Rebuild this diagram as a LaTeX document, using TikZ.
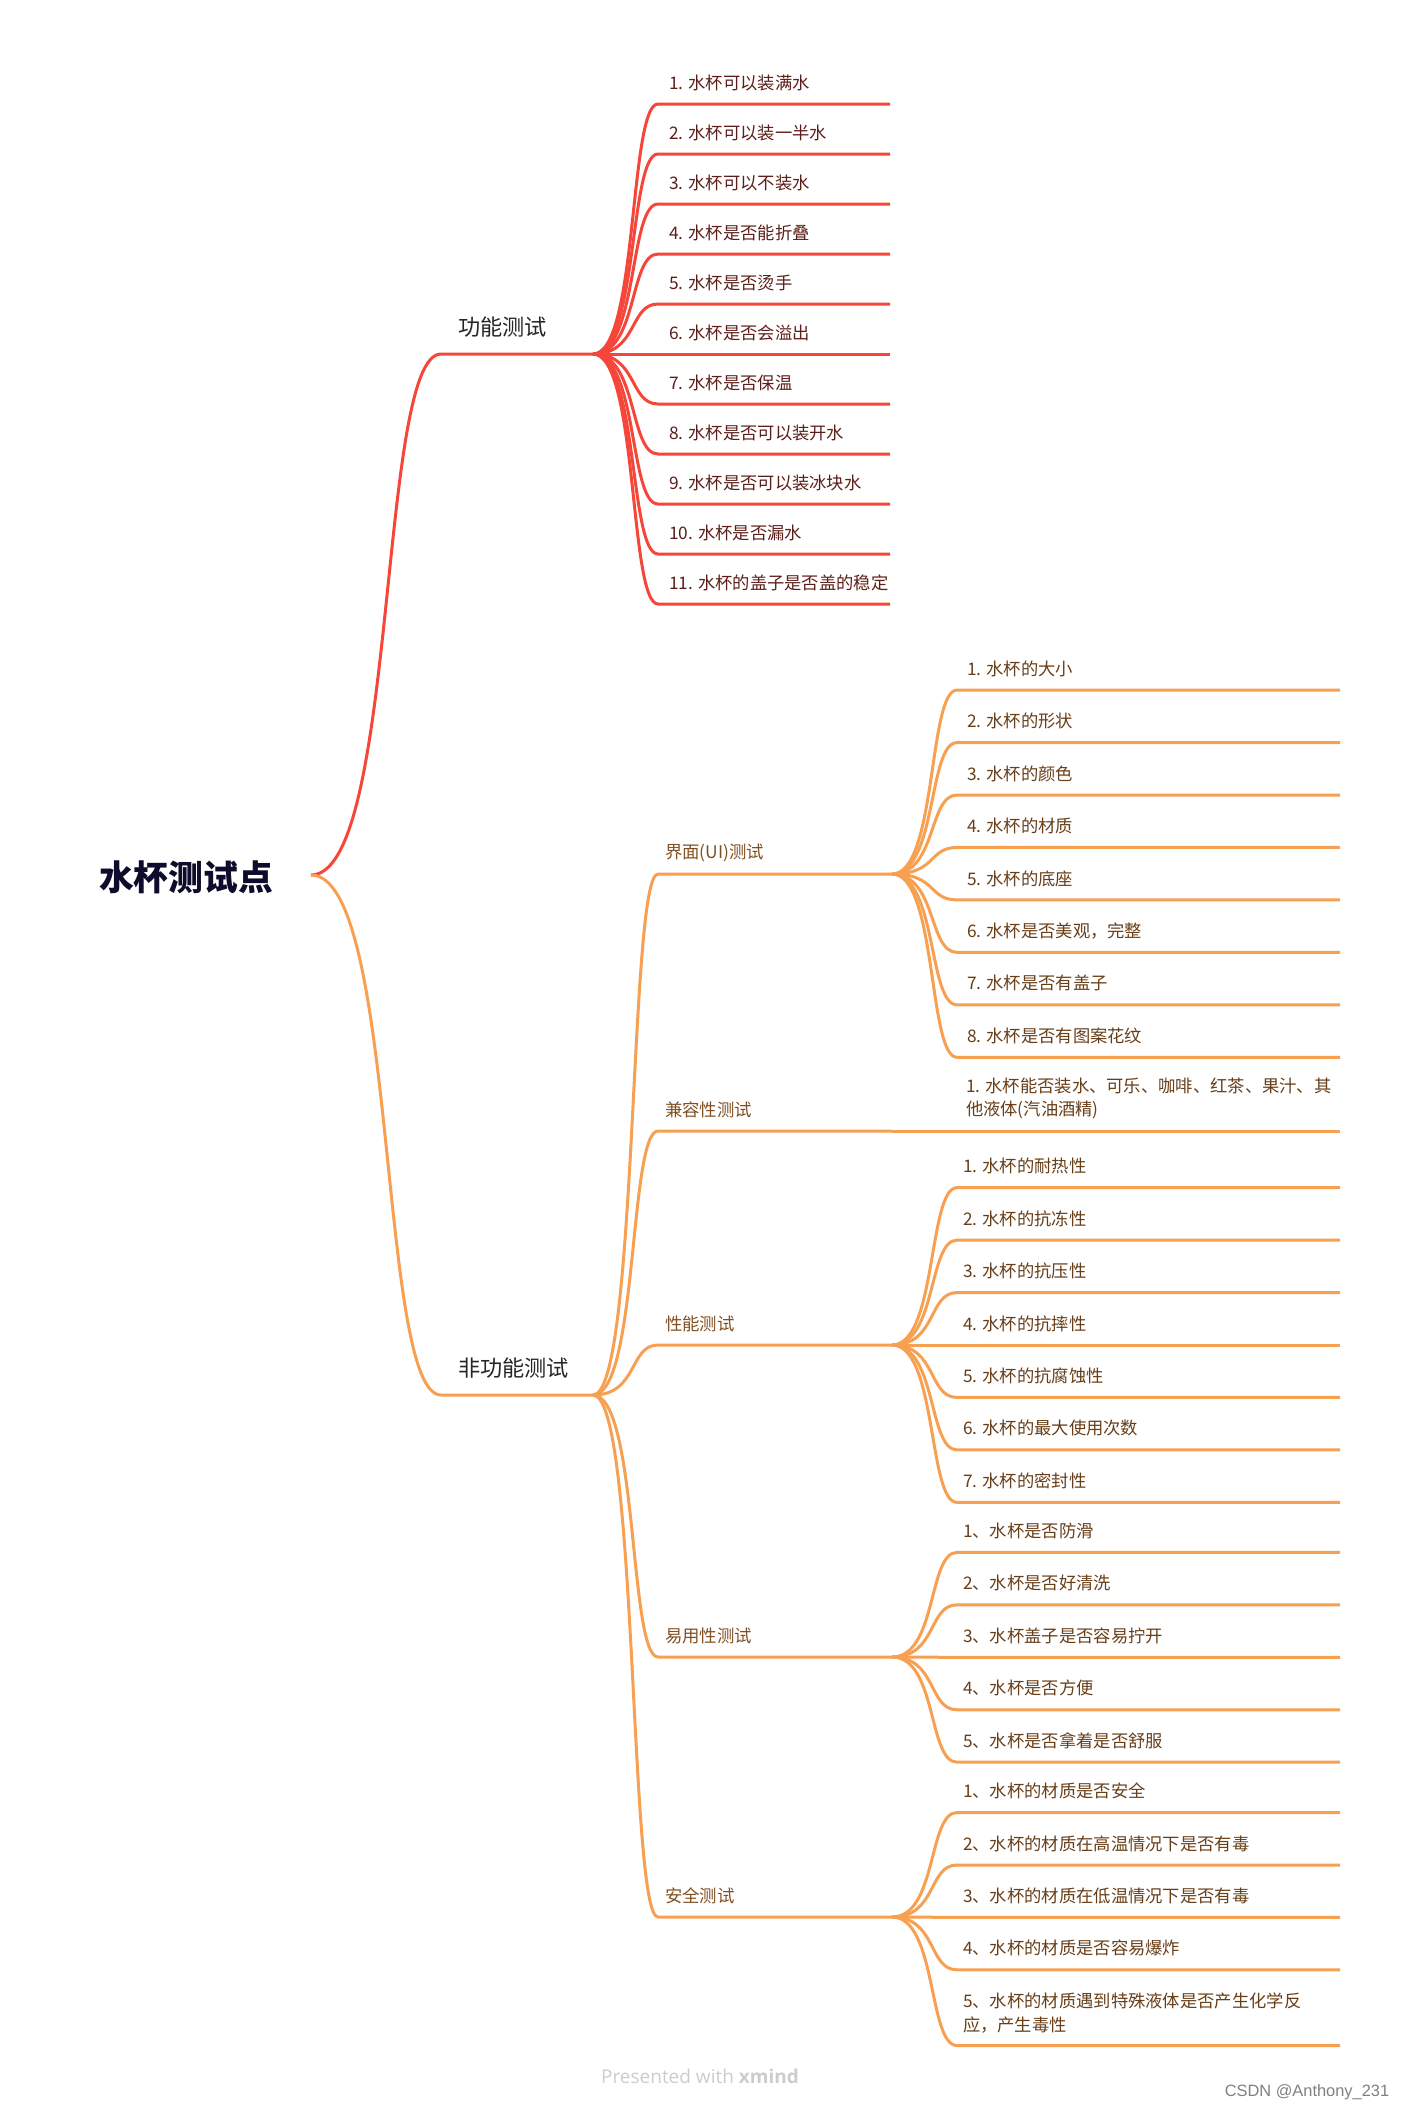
\documentclass[tikz,border=0pt]{standalone}
\usepackage{fontspec}
\setmainfont{Liberation Sans}
\newfontfamily\cjk{Noto Sans CJK SC}
\newfontfamily\credit{Open Sans}
\usetikzlibrary{positioning}

\definecolor{redline}{RGB}{246,70,58}
\definecolor{orangeline}{RGB}{248,160,82}
\definecolor{redtext}{RGB}{92,30,24}
\definecolor{orangetext}{RGB}{104,62,24}
\definecolor{subtext}{RGB}{128,80,34}
\definecolor{maintext}{RGB}{38,38,38}
\definecolor{roottext}{RGB}{14,12,44}

\begin{document}
\begin{tikzpicture}[x=0.5pt, y=-0.5pt,
    inner sep=0pt, outer sep=0pt,
    branch/.style={line width=1.5pt, color=#1},
    rootlabel/.style={font=\cjk\bfseries\fontsize{17.4}{20}\selectfont, text=roottext},
    mainlabel/.style={anchor=west, font=\cjk\fontsize{11.1}{13}\selectfont, text=maintext},
    sublabel/.style={anchor=west, font=\cjk\fontsize{8.7}{11.7}\selectfont, text=subtext},
    leaflabel/.style={anchor=west, align=left, font=\cjk\fontsize{8.65}{11.65}\selectfont, text=#1},
]
    \useasboundingbox (0,0) rectangle (1403,2111);

    % Root
    \node[rootlabel] (root) at (186,877) {水杯测试点};
    \coordinate (rootend) at (311,875);

    % Main branches
    \coordinate (fun) at (441,354);
    \coordinate (funend) at (593,354);
    \coordinate (nonfun) at (441,1395);
    \coordinate (nonfunend) at (593,1395);
    \draw[branch=redline] (rootend) .. controls +(87,0) and +(-63,0) .. (fun) -- (funend);
    \draw[branch=orangeline] (rootend) .. controls +(87,0) and +(-63,0) .. (nonfun) -- (nonfunend);
    \node[mainlabel] (funlabel) at (458,327) {功能测试};
    \node[mainlabel] (nonfunlabel) at (458,1368) {非功能测试};

    % Functional tests
    \foreach \txt [count=\i] in {1. 水杯可以装满水, 2. 水杯可以装一半水, 3. 水杯可以不装水,
        4. 水杯是否能折叠, 5. 水杯是否烫手, 6. 水杯是否会溢出, 7. 水杯是否保温,
        8. 水杯是否可以装开水, 9. 水杯是否可以装冰块水, 10. 水杯是否漏水,
        11. 水杯的盖子是否盖的稳定}{
        \pgfmathsetmacro\ly{354+(\i-6)*50}
        \coordinate (f\i) at (658,\ly);
        \draw[branch=redline] (funend) .. controls +(45,0) and +(-29,0) .. (f\i) -- ++(232,0);
        \node[leaflabel=redtext] (fl\i) at (669,\ly-21.5) {\txt};
    }

    % Non-functional tests
    \foreach \y/\name/\txt in {874/ui/界面(UI)测试, 1131/compat/兼容性测试,
        1345/perf/性能测试, 1657/usab/易用性测试, 1917/safe/安全测试}{
        \coordinate (\name) at (658,\y);
        \coordinate (end\name) at (892,\y);
        \draw[branch=orangeline] (nonfunend) .. controls +(45,0) and +(-29,0) .. (\name) -- (end\name);
        \node[sublabel] (label\name) at (665,\y-21.5) {\txt};
    }

    % UI
    \foreach \txt [count=\j] in {1. 水杯的大小, 2. 水杯的形状, 3. 水杯的颜色, 4. 水杯的材质,
        5. 水杯的底座, 6. 水杯是否美观，完整, 7. 水杯是否有盖子, 8. 水杯是否有图案花纹}{
        \pgfmathsetmacro\ly{873.7+(\j-4.5)*52.45}
        \coordinate (ui\j) at (957,\ly);
        \draw[branch=orangeline] (endui) .. controls +(45,0) and +(-29,0) .. (ui\j) -- ++(383,0);
        \node[leaflabel=orangetext] (uil\j) at (967,\ly-21.5) {\txt};
    }

    % Compatibility
    \draw[branch=orangeline] (endcompat) -- ++(448,0);
    \node[leaflabel=orangetext] (compatl1) at (966,1098.5)
        {1. 水杯能否装水、可乐、咖啡、红茶、果汁、其\\他液体(汽油酒精)};

    % Performance
    \foreach \txt [count=\j] in {1. 水杯的耐热性, 2. 水杯的抗冻性, 3. 水杯的抗压性, 4. 水杯的抗摔性,
        5. 水杯的抗腐蚀性, 6. 水杯的最大使用次数, 7. 水杯的密封性}{
        \pgfmathsetmacro\ly{1345+(\j-4)*52.45}
        \coordinate (perf\j) at (957,\ly);
        \draw[branch=orangeline] (endperf) .. controls +(45,0) and +(-29,0) .. (perf\j) -- ++(383,0);
        \node[leaflabel=orangetext] (perfl\j) at (963,\ly-21.5) {\txt};
    }

    % Usability
    \foreach \txt [count=\j] in {1、水杯是否防滑, 2、水杯是否好清洗, 3、水杯盖子是否容易拧开,
        4、水杯是否方便, 5、水杯是否拿着是否舒服}{
        \pgfmathsetmacro\ly{1657.3+(\j-3)*52.45}
        \coordinate (usab\j) at (957,\ly);
        \draw[branch=orangeline] (endusab) .. controls +(45,0) and +(-29,0) .. (usab\j) -- ++(383,0);
        \node[leaflabel=orangetext] (usabl\j) at (963,\ly-21.5) {\txt};
    }

    % Safety
    \foreach \ly/\dy/\txt [count=\j] in {1812.5/21.5/1、水杯的材质是否安全,
        1865/21.5/2、水杯的材质在高温情况下是否有毒, 1917.4/21.5/3、水杯的材质在低温情况下是否有毒,
        1969.8/21.5/4、水杯的材质是否容易爆炸,
        2045.5/32.5/{5、水杯的材质遇到特殊液体是否产生化学反\\应，产生毒性}}{
        \coordinate (safe\j) at (957,\ly);
        \draw[branch=orangeline] (endsafe) .. controls +(45,0) and +(-29,0) .. (safe\j) -- ++(383,0);
        \node[leaflabel=orangetext] (safel\j) at (963,\ly-\dy) {\txt};
    }

    % Credits
    \node[font=\credit\fontsize{9.5}{11}\selectfont, text=black!20] (present) at (700,2076)
        {Presented with \textbf{xmind}};
    \node[font=\fontsize{8.2}{10}\selectfont, text=black!50] (csdn) at (1307,2092)
        {CSDN @Anthony\_231};
\end{tikzpicture}
\end{document}
